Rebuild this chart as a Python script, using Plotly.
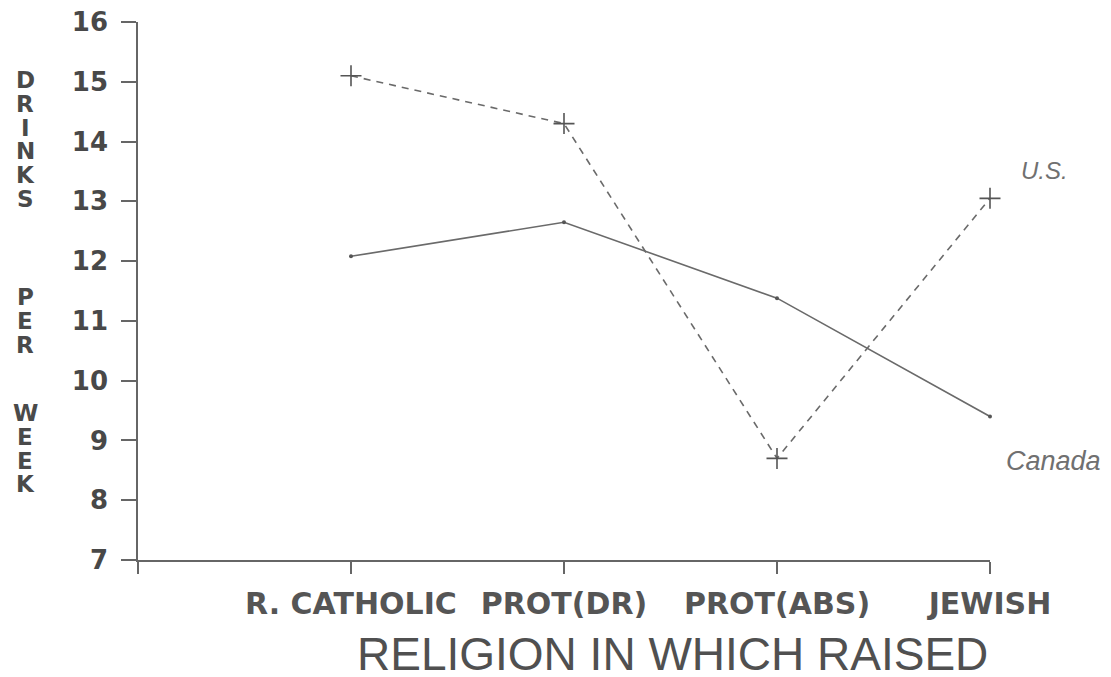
import plotly.graph_objects as go

categories = ["R. CATHOLIC", "PROT(DR)", "PROT(ABS)", "JEWISH"]
cat_pos = [1, 2, 3, 4]
us_values = [15.1, 14.3, 8.7, 13.05]
canada_values = [12.08, 12.65, 11.38, 9.4]
y_ticks = [7, 8, 9, 10, 11, 12, 13, 14, 15, 16]
y_title_words = ["DRINKS", "PER", "WEEK"]
x_title = "RELIGION IN WHICH RAISED"

line_col = "#6a6a6a"
text_col = "#4a4a4a"
bold_font = "DejaVu Sans"

fig = go.Figure()
fig.add_trace(go.Scatter(
    x=cat_pos, y=us_values, mode="lines+markers", name="U.S.",
    line=dict(color=line_col, width=1.6, dash="7px,6px"),
    marker=dict(symbol="cross-thin", size=15, line=dict(color="#555", width=1.6)),
    cliponaxis=False,
))
fig.add_trace(go.Scatter(
    x=cat_pos, y=canada_values, mode="lines+markers", name="Canada",
    line=dict(color=line_col, width=1.6),
    marker=dict(symbol="circle", size=4, color="#555"),
    cliponaxis=False,
))

annotations = []
# stacked vertical y-axis title letters
word_starts = [80, 297, 413]
pitch = 23.8
for word, y0 in zip(y_title_words, word_starts):
    for i, ch in enumerate(word):
        ypix = y0 + i * pitch
        annotations.append(dict(
            text=ch, xref="paper", yref="paper",
            x=(25 - 138) / 852, y=(560 - ypix) / 538,
            xanchor="center", yanchor="middle", showarrow=False,
            font=dict(family=bold_font, size=23, color=text_col, weight="bold"),
        ))

annotations.append(dict(
    text=x_title, xref="paper", yref="paper",
    x=(672 - 138) / 852, y=(560 - 654) / 538,
    xanchor="center", yanchor="middle", showarrow=False,
    font=dict(family="Liberation Sans", size=46, color="#505050"),
))
annotations.append(dict(
    text="<i>U.S.</i>", xref="x", yref="y", x=cat_pos[-1], y=us_values[-1],
    xanchor="left", yanchor="middle", xshift=29, yshift=28, showarrow=False,
    font=dict(family="Liberation Sans", size=24, color="#707070"),
))
annotations.append(dict(
    text="<i>Canada</i>", xref="x", yref="y", x=cat_pos[-1], y=canada_values[-1],
    xanchor="left", yanchor="middle", xshift=14, yshift=-44, showarrow=False,
    font=dict(family="Liberation Sans", size=27, color="#707070"),
))

fig.update_layout(
    template="none",
    width=1111, height=677,
    margin=dict(l=138, r=121, t=22, b=117, autoexpand=False),
    paper_bgcolor="white", plot_bgcolor="white",
    showlegend=False,
    annotations=annotations,
    xaxis=dict(
        range=[0, 4], tickvals=[0] + cat_pos, ticktext=[""] + categories,
        showgrid=False, zeroline=False, showline=True, linecolor="#666", linewidth=1.5,
        ticks="outside", ticklen=12, tickcolor="#666", tickwidth=1.5, automargin=False,
        tickfont=dict(family=bold_font, size=30, color="#555", weight="bold"),
        ticklabelstandoff=4,
    ),
    yaxis=dict(
        range=[7, 16], tickvals=y_ticks,
        showgrid=False, zeroline=False, showline=True, linecolor="#666", linewidth=1.5,
        ticks="outside", ticklen=15, tickcolor="#666", tickwidth=1.5, automargin=False,
        tickfont=dict(family=bold_font, size=26, color="#484848", weight="bold"),
        ticklabelstandoff=8,
    ),
)

fig.write_html(
    "out.html",
    config={"displayModeBar": False},
    post_script="document.body.style.margin='0';document.body.style.overflow='hidden';",
)
